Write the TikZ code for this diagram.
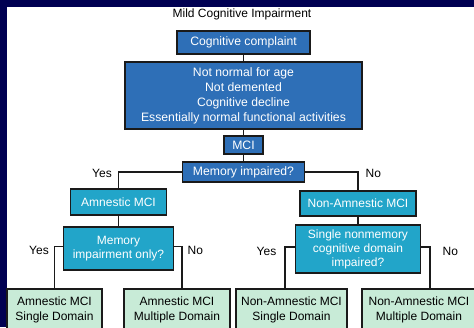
\documentclass[tikz,border=0pt]{standalone}
\usepackage{fontspec}
\setmainfont{Liberation Sans}
\usepackage{tikz}
\usetikzlibrary{positioning}
\usepackage{xcolor}
\tikzstyle{mbox} = [%
  rectangle,
  draw=mciBorder,
  line width=1.4pt,
  outer sep=0pt,
  align=center,
  text centered,
  inner sep=0pt,
  text=white,
  font=\fontsize{12.2}{15}\selectfont
]
\definecolor{mciNavy}{HTML}{000052}
\definecolor{mciBlue}{HTML}{2E6FB7}
\definecolor{mciCyan}{HTML}{22A5C9}
\definecolor{mciGreen}{HTML}{C8EBD7}
\definecolor{mciBorder}{HTML}{1A1A1A}

\begin{document}
\begin{tikzpicture}[%
  x=1pt,y=-1pt,
  bluebox/.style={mbox,fill=mciBlue},
  cyanbox/.style={mbox,fill=mciCyan,font=\fontsize{12}{14}\selectfont},
  leafbox/.style={mbox,fill=mciGreen,text=black,minimum height=41pt,font=\fontsize{12}{15}\selectfont},
  link/.style={draw=mciBorder,line width=1.4pt},
  ans/.style={font=\fontsize{12}{14}\selectfont,text=black,inner sep=0pt}
]

  % Frame
  \fill[mciNavy] (0,0) rectangle (474,327);
  \fill[white] (7,7) rectangle (474,327);
  \useasboundingbox (0,0) rectangle (474,327);

  % Nodes
  \node[font=\fontsize{12}{14}\selectfont] (title) at (242,14) {Mild Cognitive Impairment};
  \node[bluebox,minimum width=133pt,minimum height=23pt] (cc) at (243.5,42.5) {Cognitive complaint};
  \node[bluebox,minimum width=237pt,minimum height=67pt,below=8pt of cc] (crit) {Not normal for age\\Not demented\\Cognitive decline\\Essentially normal functional activities};
  \node[bluebox,minimum width=39pt,minimum height=18pt,below=7pt of crit] (mci) {MCI};
  \node[bluebox,minimum width=122pt,minimum height=20pt,below=8pt of mci] (memq) {Memory impaired?};
  \node[cyanbox,minimum width=96pt,minimum height=26pt,below=7pt of memq,xshift=-125pt] (amn) {Amnestic MCI};
  \node[cyanbox,minimum width=116pt,minimum height=25pt,below=9pt of memq,xshift=114.5pt] (namn) {Non-Amnestic MCI};
  \node[cyanbox,minimum width=110pt,minimum height=43pt,below=12pt of amn] (amq) {Memory\\impairment only?};
  \node[cyanbox,minimum width=125pt,minimum height=48pt,below=9pt of namn] (namq) {Single nonmemory\\cognitive domain\\impaired?};
  \node[leafbox,minimum width=95pt,below=19pt of amq,xshift=-64pt] (leaf1) {Amnestic MCI\\Single Domain};
  \node[leafbox,minimum width=106pt,below=19pt of amq,xshift=58.5pt] (leaf2) {Amnestic MCI\\Multiple Domain};
  \node[leafbox,minimum width=111pt,below=16pt of namq,xshift=-66.5pt] (leaf3) {Non-Amnestic MCI\\Single Domain};
  \node[leafbox,minimum width=114pt,below=16pt of namq,xshift=61pt] (leaf4) {Non-Amnestic MCI\\Multiple Domain};

  % Edges
  \draw[link] (cc) -- (crit);
  \draw[link] (crit) -- (mci);
  \draw[link] (mci) -- (memq);
  \draw[link] (memq.west) -| node[ans,left=6pt,yshift=-1pt] {Yes} (amn.north);
  \draw[link] (memq.east) -| node[ans,right=7pt,yshift=-1pt] {No} (namn.north);
  \draw[link] (amn) -- (amq);
  \draw[link] (namn) -- (namq);
  \draw[link] ([yshift=2pt]amq.west) -| node[ans,left=5pt,yshift=-4pt] {Yes} (leaf1.north);
  \draw[link] ([yshift=2pt]amq.east) -| node[ans,right=5pt,yshift=-4pt] {No} ([xshift=5pt]leaf2.north);
  \draw[link] ([yshift=2pt]namq.west) -| node[ans,left=8pt,yshift=-4pt] {Yes} ([xshift=-6.5pt]leaf3.north);
  \draw[link] ([yshift=2pt]namq.east) -| node[ans,right=12pt,yshift=-4pt] {No} ([xshift=11pt]leaf4.north);

\end{tikzpicture}
\end{document}
